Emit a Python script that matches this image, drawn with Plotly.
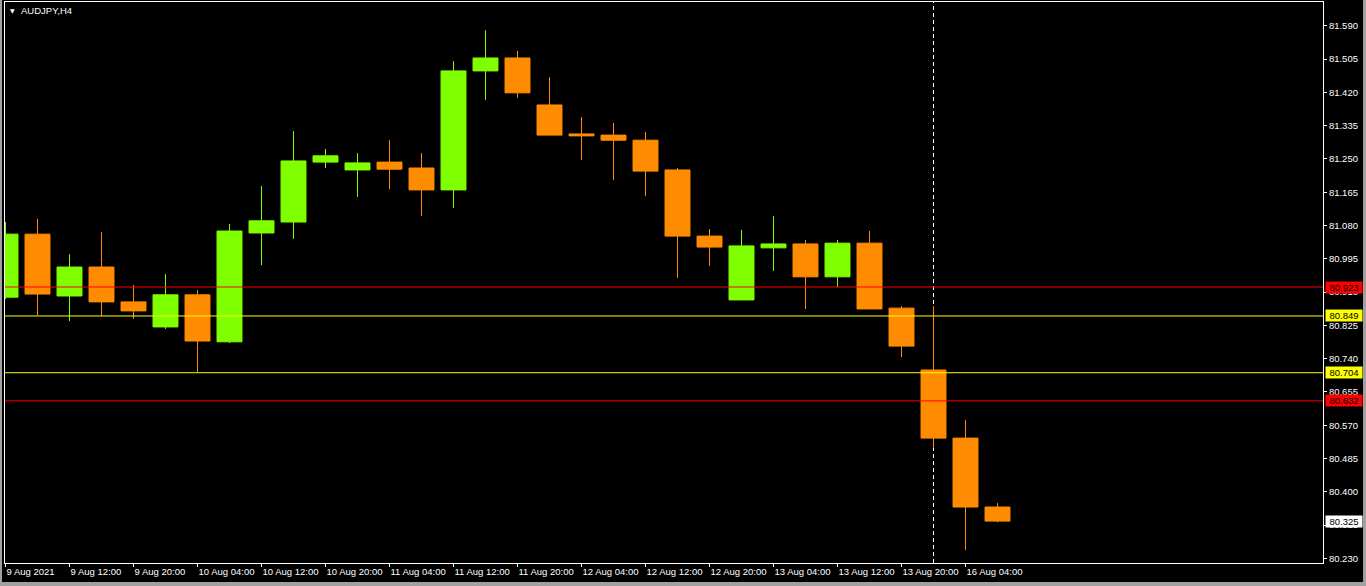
import plotly.graph_objects as go

# ---- data (AUDJPY, H4) ----
times = ["9 Aug 04:00", "9 Aug 08:00", "9 Aug 12:00", "9 Aug 16:00", "9 Aug 20:00",
         "10 Aug 00:00", "10 Aug 04:00", "10 Aug 08:00", "10 Aug 12:00", "10 Aug 16:00",
         "10 Aug 20:00", "11 Aug 00:00", "11 Aug 04:00", "11 Aug 08:00", "11 Aug 12:00",
         "11 Aug 16:00", "11 Aug 20:00", "12 Aug 00:00", "12 Aug 04:00", "12 Aug 08:00",
         "12 Aug 12:00", "12 Aug 16:00", "12 Aug 20:00", "13 Aug 00:00", "13 Aug 04:00",
         "13 Aug 08:00", "13 Aug 12:00", "13 Aug 16:00", "13 Aug 20:00", "16 Aug 00:00",
         "16 Aug 04:00", "16 Aug 08:00"]
opens = [80.897, 81.058, 80.900, 80.974, 80.885, 80.821, 80.903, 80.783, 81.061, 81.089,
         81.242, 81.222, 81.242, 81.227, 81.171, 81.475, 81.508, 81.388, 81.314, 81.311,
         81.298, 81.222, 81.053, 80.890, 81.023, 81.033, 80.949, 81.035, 80.869, 80.711,
         80.537, 80.361]
highs = [81.089, 81.097, 81.007, 81.063, 80.928, 80.956, 80.915, 81.084, 81.181, 81.321,
         81.276, 81.265, 81.298, 81.265, 81.500, 81.579, 81.526, 81.459, 81.357, 81.342,
         81.319, 81.227, 81.071, 81.069, 81.104, 81.043, 81.043, 81.066, 80.874, 80.874,
         80.583, 80.371]
lows = [80.892, 80.851, 80.836, 80.849, 80.841, 80.816, 80.706, 80.780, 80.979, 81.046,
        81.227, 81.153, 81.173, 81.104, 81.125, 81.401, 81.406, 81.311, 81.247, 81.196,
        81.155, 80.946, 80.977, 80.890, 80.964, 80.867, 80.923, 80.867, 80.744, 80.512,
        80.251, 80.322]
closes = [81.058, 80.905, 80.974, 80.885, 80.862, 80.903, 80.785, 81.066, 81.092, 81.245,
          81.258, 81.240, 81.224, 81.171, 81.475, 81.508, 81.419, 81.311, 81.309, 81.298,
          81.219, 81.053, 81.025, 81.028, 81.033, 80.949, 81.035, 80.867, 80.772, 80.537,
          80.361, 80.325]

x_tick_idx = list(range(0, 32, 2))
x_tick_text = ["9 Aug 2021", "9 Aug 12:00", "9 Aug 20:00", "10 Aug 04:00", "10 Aug 12:00",
               "10 Aug 20:00", "11 Aug 04:00", "11 Aug 12:00", "11 Aug 20:00", "12 Aug 04:00",
               "12 Aug 12:00", "12 Aug 20:00", "13 Aug 04:00", "13 Aug 12:00", "13 Aug 20:00",
               "16 Aug 04:00"]
y_tick_vals = [81.590, 81.505, 81.420, 81.335, 81.250, 81.165, 81.080, 80.995, 80.910,
               80.825, 80.740, 80.655, 80.570, 80.485, 80.400, 80.315, 80.230]

red_levels = [80.923, 80.632]
yellow_levels = [80.849, 80.704]
current_price = 80.325
separator_idx = 29  # 16 Aug 00:00

GREEN = "#7FFF00"
ORANGE = "#FF8C00"
FONT = "Liberation Sans"
FRAME = "#A0A0A0"

xs = list(range(len(times)))

fig = go.Figure()
fig.add_trace(go.Candlestick(
    x=xs, open=opens, high=highs, low=lows, close=closes,
    text=times, hoverinfo="text+y",
    increasing=dict(line=dict(color=GREEN, width=1), fillcolor=GREEN),
    decreasing=dict(line=dict(color=ORANGE, width=1), fillcolor=ORANGE),
    whiskerwidth=0, showlegend=False,
))

shapes = []
# period separator (behind candles)
shapes.append(dict(type="line", xref="x", x0=separator_idx, x1=separator_idx,
                   yref="paper", y0=0, y1=1,
                   line=dict(color="#FFFFFF", width=1, dash="4px,3px"), layer="below"))
for v in red_levels:
    shapes.append(dict(type="line", xref="paper", x0=0, x1=1, yref="y", y0=v, y1=v,
                       line=dict(color="#FF0000", width=1), layer="above"))
for v in yellow_levels:
    shapes.append(dict(type="line", xref="paper", x0=0, x1=1, yref="y", y0=v, y1=v,
                       line=dict(color="#FFFF00", width=1), layer="above"))

# grey window frame (left, right, bottom)
PW, PH = 1318.0, 561.0
def px_x(p):
    return (p - 5) / PW
def px_y(p):
    return (563 - p) / PH
frame_line = dict(width=0)
shapes.append(dict(type="rect", xref="paper", yref="paper", x0=px_x(0), x1=px_x(2),
                   y0=px_y(586), y1=px_y(0), fillcolor=FRAME, line=frame_line, layer="above"))
shapes.append(dict(type="rect", xref="paper", yref="paper", x0=px_x(1363), x1=px_x(1366),
                   y0=px_y(586), y1=px_y(0), fillcolor=FRAME, line=frame_line, layer="above"))
shapes.append(dict(type="rect", xref="paper", yref="paper", x0=px_x(0), x1=px_x(1366),
                   y0=px_y(586), y1=px_y(582), fillcolor=FRAME, line=frame_line, layer="above"))

annotations = []
def price_label(v, bg):
    return dict(xref="paper", x=1, xanchor="left", xshift=2, yref="y", y=v,
                yanchor="middle", text=f"{v:.3f}", showarrow=False, width=36, height=11,
                align="center", bgcolor=bg, borderpad=0,
                font=dict(family=FONT, size=9.5, color="#000000"))
for v in red_levels:
    annotations.append(price_label(v, "#FF0000"))
for v in yellow_levels:
    annotations.append(price_label(v, "#FFFF00"))
annotations.append(price_label(current_price, "#FFFFFF"))

annotations.append(dict(xref="paper", x=0, xanchor="left", xshift=3, yref="paper", y=1,
                        yanchor="top", yshift=-3, text="▼", showarrow=False,
                        font=dict(family="DejaVu Sans", size=6, color="#FFFFFF")))
annotations.append(dict(xref="paper", x=0, xanchor="left", xshift=14, yref="paper", y=1,
                        yanchor="top", yshift=-1, text="AUDJPY,H4", showarrow=False,
                        font=dict(family=FONT, size=9.5, color="#FFFFFF")))

half = 0.5 / 32.0
fig.update_layout(
    width=1366, height=586,
    margin=dict(l=5, r=43, t=2, b=23, autoexpand=False),
    paper_bgcolor="#000000", plot_bgcolor="#000000",
    boxgap=0.22, boxgroupgap=0,
    shapes=shapes, annotations=annotations,
    font=dict(family=FONT, size=9.5, color="#FFFFFF"),
    xaxis=dict(range=[-half, 41.1875 - half], rangeslider=dict(visible=False),
               tickmode="array", tickvals=x_tick_idx, ticktext=x_tick_text,
               ticklabelposition="outside right", tickangle=0, automargin=False,
               ticks="outside", ticklen=3, tickcolor="#FFFFFF",
               showgrid=False, zeroline=False,
               showline=True, linecolor="#FFFFFF", linewidth=1, mirror=True,
               tickfont=dict(family=FONT, size=9.5, color="#FFFFFF"), fixedrange=True),
    yaxis=dict(range=[80.218, 81.651], side="right", automargin=False,
               tickmode="array", tickvals=y_tick_vals,
               ticktext=[f"{v:.3f}" for v in y_tick_vals],
               ticks="outside", ticklen=3, tickcolor="#FFFFFF",
               showgrid=False, zeroline=False,
               showline=True, linecolor="#FFFFFF", linewidth=1, mirror=True,
               tickfont=dict(family=FONT, size=9.5, color="#FFFFFF"), fixedrange=True),
)

fig.write_html(
    "out.html",
    config={"displayModeBar": False},
    post_script="document.body.style.margin='0';document.body.style.background='#000';",
)
